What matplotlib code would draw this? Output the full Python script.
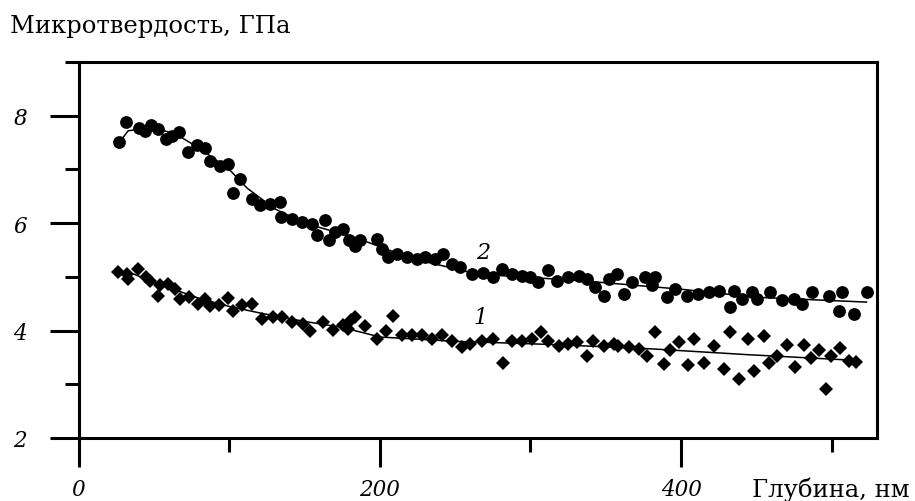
import numpy as np
import matplotlib
matplotlib.use("Agg")
import matplotlib.pyplot as plt
from matplotlib.ticker import MultipleLocator

# series 2 (circles), depth nm / microhardness GPa
x2 = [27.2, 31.5, 40.2, 44.2, 47.8, 53.0, 58.3, 62.1, 66.5, 72.9, 78.5, 83.7, 87.1,
      94.0, 99.0, 102.5, 107.2, 115.0, 120.5, 127.2, 133.8, 134.5, 141.4, 148.1,
      154.7, 158.2, 163.7, 166.3, 170.3, 175.8, 179.3, 183.6, 186.9, 198.0, 201.3,
      205.7, 211.3, 217.9, 224.6, 230.1, 236.7, 242.2, 247.8, 253.3, 261.1, 268.3,
      275.4, 281.0, 287.6, 294.3, 299.8, 305.3, 311.9, 317.5, 325.2, 331.9, 337.5,
      343.0, 348.5, 351.8, 357.6, 361.8, 367.3, 376.2, 380.6, 382.8, 390.6, 396.1,
      403.9, 411.5, 418.2, 424.8, 432.6, 434.8, 440.4, 447.0, 450.3, 459.2, 466.9,
      474.6, 480.2, 486.8, 497.9, 504.5, 506.8, 514.5, 523.4]
y2 = [7.51, 7.88, 7.77, 7.72, 7.83, 7.76, 7.57, 7.63, 7.70, 7.32, 7.45, 7.39, 7.15,
      7.07, 7.11, 6.57, 6.83, 6.45, 6.34, 6.36, 6.39, 6.11, 6.08, 6.02,
      5.99, 5.78, 6.06, 5.68, 5.83, 5.89, 5.69, 5.58, 5.68, 5.71, 5.52,
      5.37, 5.43, 5.37, 5.33, 5.37, 5.33, 5.43, 5.24, 5.18, 5.06, 5.07,
      4.99, 5.15, 5.06, 5.02, 4.99, 4.90, 5.12, 4.93, 4.99, 5.02, 4.96,
      4.81, 4.65, 4.96, 5.06, 4.68, 4.90, 4.99, 4.84, 4.99, 4.62, 4.78,
      4.65, 4.68, 4.71, 4.74, 4.43, 4.74, 4.59, 4.71, 4.59, 4.71, 4.56,
      4.59, 4.50, 4.71, 4.65, 4.37, 4.71, 4.31, 4.71]

# series 1 (diamonds)
x1 = [26.4, 32.0, 33.1, 39.7, 44.8, 47.5, 53.0, 54.1, 59.1, 64.1, 67.4, 73.4, 79.5,
      84.0, 87.3, 93.3, 99.5, 102.8, 108.4, 115.0, 121.6, 128.8, 134.9, 141.6,
      149.3, 153.7, 162.5, 168.7, 175.3, 180.8, 179.2, 183.6, 190.2, 198.0, 203.8,
      208.5, 214.6, 221.2, 227.9, 234.5, 241.2, 247.8, 254.4, 260.0, 267.7, 275.4,
      281.5, 287.6, 294.3, 300.9, 307.1, 311.9, 318.6, 325.2, 330.8, 337.4, 341.8,
      348.5, 355.1, 358.4, 365.1, 371.7, 377.3, 382.8, 388.3, 392.8, 398.6, 404.4,
      408.7, 414.9, 422.0, 428.4, 432.4, 438.1, 444.4, 448.5, 454.7, 458.5, 463.6,
      470.2, 475.8, 481.5, 486.4, 491.7, 496.3, 499.7, 505.7, 511.2, 516.3]
y1 = [5.09, 5.05, 4.96, 5.15, 4.99, 4.93, 4.64, 4.84, 4.87, 4.78, 4.59, 4.62, 4.50,
      4.59, 4.46, 4.48, 4.61, 4.37, 4.48, 4.50, 4.22, 4.26, 4.25, 4.16,
      4.12, 4.00, 4.16, 4.01, 4.11, 4.20, 4.03, 4.25, 4.09, 3.84, 4.00,
      4.28, 3.91, 3.91, 3.91, 3.84, 3.91, 3.81, 3.69, 3.75, 3.80, 3.84,
      3.40, 3.81, 3.81, 3.84, 3.98, 3.81, 3.72, 3.75, 3.78, 3.53, 3.81,
      3.72, 3.75, 3.72, 3.69, 3.66, 3.53, 3.97, 3.38, 3.63, 3.78, 3.35,
      3.85, 3.40, 3.72, 3.29, 3.97, 3.10, 3.85, 3.25, 3.89, 3.40, 3.52,
      3.73, 3.33, 3.73, 3.49, 3.63, 2.91, 3.53, 3.67, 3.43, 3.42]

# smoothed curves
fit2_x = [27, 33, 50, 65, 80, 100, 112, 130, 150, 170, 185, 220, 265, 333, 400, 450, 523]
fit2_y = [7.5, 7.72, 7.78, 7.65, 7.4, 7.0, 6.65, 6.27, 6.0, 5.84, 5.72, 5.35, 5.05, 4.93, 4.77, 4.62, 4.53]
fit1_x = [26, 35, 50, 65, 80, 100, 120, 150, 175, 200, 250, 315, 380, 445, 519]
fit1_y = [5.08, 5.07, 4.9, 4.75, 4.6, 4.45, 4.33, 4.17, 4.06, 3.88, 3.80, 3.74, 3.66, 3.55, 3.44]

serif = "DejaVu Serif"
plt.rcParams['font.family'] = serif

fig = plt.figure(figsize=(9.15, 5.02), dpi=100)
ax = fig.add_axes([0.0858, 0.1255, 0.8727, 0.749])

ax.plot(fit2_x, fit2_y, color="black", lw=1.1)
ax.plot(fit1_x, fit1_y, color="black", lw=1.1)
ax.plot(x2, y2, "o", color="black", ms=9.2, mew=0)
ax.plot(x1, y1, "D", color="black", ms=7.6, mew=0)

ax.set_xlim(0, 530)
ax.set_ylim(2, 9)
ax.xaxis.set_major_locator(MultipleLocator(200))
ax.xaxis.set_minor_locator(MultipleLocator(100))
ax.yaxis.set_major_locator(MultipleLocator(2))
ax.yaxis.set_minor_locator(MultipleLocator(1))
ax.tick_params(which="major", length=21, width=2.2, direction="out")
ax.tick_params(which="minor", length=10, width=2.2, direction="out")
ax.tick_params(axis="y", which="major", pad=16)
ax.tick_params(axis="x", which="major", pad=8)
for sp in ax.spines.values():
    sp.set_linewidth(2.2)

for lab in ax.get_xticklabels() + ax.get_yticklabels():
    lab.set_fontstyle("italic")
    lab.set_fontsize(15.5)

ax.text(268.6, 5.47, "2", fontsize=16, style="italic", ha="center", va="center")
ax.text(266.6, 4.25, "1", fontsize=16, style="italic", ha="center", va="center")

fig.text(10 / 915, 1 - 26 / 502, "Микротвердость, ГПа", fontsize=17.5, ha="left", va="center")
fig.text(752 / 915, 1 - 490 / 502, "Глубина, нм", fontsize=17.5, ha="left", va="center")

fig.savefig("out.png", dpi=100)
